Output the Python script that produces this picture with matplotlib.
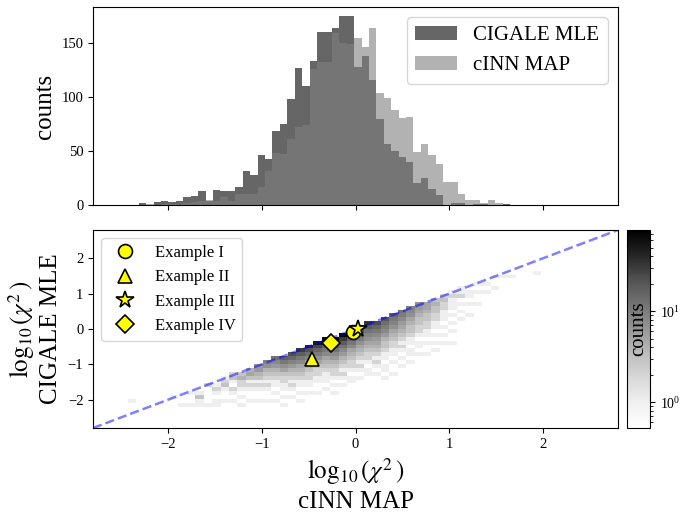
import matplotlib
matplotlib.use("Agg")
import matplotlib.pyplot as plt
import numpy as np
from matplotlib.colors import LogNorm

plt.rcParams['font.family'] = 'serif'
plt.rcParams['font.serif'] = ['Liberation Serif', 'DejaVu Serif']
plt.rcParams['mathtext.fontset'] = 'stix'

# 1D histograms of log10(chi^2), shared bins
hist_start = -2.312
hist_width = 0.0792
cigale_counts = [2, 0, 3, 4, 3, 4, 7, 8, 13, 4, 14, 13, 13, 17, 32, 28, 46, 43, 69, 75,
                 98, 127, 110, 134, 161, 161, 164, 175, 175, 128, 138, 116, 80, 57, 50, 45, 40, 20, 25, 15,
                 9, 0, 2, 2, 0, 1, 1, 0, 0, 1]
cinn_counts = [0, 1, 0, 1, 1, 1, 2, 3, 4, 5, 4, 7, 4, 10, 10, 10, 17, 32, 48, 47,
               61, 72, 74, 126, 133, 133, 160, 150, 149, 155, 147, 164, 104, 99, 88, 81, 82, 49, 57, 46,
               38, 21, 21, 10, 5, 5, 2, 5, 2, 0]

# 2D histogram (x: cINN MAP, y: CIGALE MLE); per x column: y of top cell, counts going down
h2_x0 = -2.52
h2_dx = 0.09
h2_y0 = -2.53
h2_dy = 0.11
h2_ny = 42
h2_top = [None, -2.02, None, None, None, None, -1.87, -2.1, -1.8, -1.8,
          -1.62, -1.55, -1.4, -1.3, -1.21, -1.12, -1.03, -0.95, -0.86, -0.77,
          -0.68, -0.59, -0.5, -0.41, -0.32, -0.23, -0.14, -0.05, 0.04, 0.13,
          0.22, 0.31, 0.4, 0.49, 0.58, 0.67, 0.76, 0.85, 0.94, 1.03,
          1.12, 1.21, 1.3, 1.39, 1.48, 1.57, 1.5, None, None, 1.6]
h2_cols = [
    [], [1], [], [], [], [], [1], [1], [1, 0, 0, 1], [1, 3, 1, 1],
    [2, 0, 0, 0, 0, 1],
    [1, 2, 1, 0, 1, 1],
    [1, 2, 3, 1, 0, 0, 1],
    [2, 3, 1, 0, 2, 1, 0, 1],
    [3, 4, 2, 2, 1, 0, 1, 0, 1],
    [4, 5, 3, 1, 2, 1, 0, 0, 1],
    [6, 6, 4, 3, 1, 2, 1, 0, 0, 1],
    [9, 7, 4, 3, 2, 1, 2, 1, 0, 0, 1],
    [12, 8, 6, 4, 3, 2, 1, 1, 0, 1, 0, 1],
    [16, 11, 7, 5, 3, 2, 2, 1, 1, 0, 1, 0, 1],
    [22, 14, 9, 6, 4, 3, 2, 1, 2, 1, 0, 1],
    [30, 18, 11, 8, 5, 4, 3, 2, 1, 1, 0, 1, 0, 1],
    [40, 22, 13, 9, 6, 4, 3, 2, 2, 1, 1, 0, 1],
    [50, 26, 15, 10, 7, 5, 3, 2, 2, 1, 1, 0, 0, 1],
    [60, 30, 17, 11, 8, 5, 4, 3, 2, 1, 1, 1, 0, 1],
    [70, 34, 18, 12, 8, 6, 4, 3, 2, 2, 1, 0, 1, 0, 1],
    [75, 32, 18, 12, 8, 6, 4, 3, 2, 1, 2, 1, 0, 1],
    [66, 28, 16, 11, 8, 5, 4, 3, 2, 2, 1, 0, 1, 1],
    [45, 22, 14, 10, 7, 5, 4, 3, 2, 1, 2, 1, 0, 1],
    [32, 18, 12, 9, 7, 5, 4, 3, 2, 2, 1, 0, 1, 1],
    [24, 15, 11, 8, 6, 5, 4, 3, 2, 1, 2, 1, 0, 1],
    [20, 13, 10, 8, 6, 4, 3, 3, 2, 1, 1, 0, 1, 1, 0, 1],
    [15, 11, 9, 7, 5, 4, 3, 2, 2, 1, 1, 0, 1, 0, 0, 1],
    [12, 10, 8, 6, 5, 4, 3, 2, 1, 2, 1, 0, 1, 0, 1],
    [9, 8, 7, 5, 4, 3, 3, 2, 1, 1, 0, 1, 1, 0, 1],
    [7, 6, 5, 4, 3, 3, 2, 2, 1, 0, 1, 1, 0, 1],
    [5, 5, 4, 3, 3, 2, 2, 1, 1, 0, 1, 0, 0, 1],
    [3, 4, 3, 3, 2, 2, 1, 1, 0, 1, 0, 1, 0, 1],
    [2, 3, 2, 2, 1, 1, 1, 0, 1, 0, 1, 0, 1],
    [1, 2, 1, 1, 1, 0, 1, 0, 1, 0, 1, 0, 0, 1],
    [1, 1, 2, 0, 1, 0, 1, 0, 1],
    [0, 1, 1, 0, 1, 0, 0, 1],
    [1, 0, 1, 0, 0, 1],
    [0, 1, 0, 1],
    [1, 0, 0, 1],
    [0, 1],
    [1], [], [], [1],
]

examples = ['Example I', 'Example II', 'Example III', 'Example IV']
ex_x = [-0.027, -0.463, 0.026, -0.257]
ex_y = [-0.076, -0.85, -0.01, -0.40]
ex_markers = ['o', '^', '*', 'D']
ex_sizes = [10, 10, 13, 9]

lims = (-2.8, 2.8)

fig = plt.figure(figsize=(6.8, 5.13), dpi=100)
ax_top = fig.add_axes([93/680, 1-205/513, 525/680, 198/513])
ax = fig.add_axes([93/680, 1-428/513, 525/680, 198/513], sharex=ax_top)
cax = fig.add_axes([627/680, 1-428/513, 23/680, 198/513])

# top panel
edges = hist_start + hist_width*np.arange(len(cigale_counts)+1)
centers = 0.5*(edges[1:] + edges[:-1])
ax_top.hist(centers, bins=edges, weights=cigale_counts, color='k', alpha=0.6, label='CIGALE MLE')
ax_top.hist(centers, bins=edges, weights=cinn_counts, color='gray', alpha=0.6, label='cINN MAP')
ax_top.set_ylabel('counts', fontsize=18)
ax_top.tick_params(labelbottom=False, labelsize=10.5)
ax_top.legend(loc='upper right', fontsize=15)

# bottom panel
nx = len(h2_cols)
x_edges = h2_x0 + h2_dx*np.arange(nx+1)
y_edges = h2_y0 + h2_dy*np.arange(h2_ny+1)
H = np.zeros((h2_ny, nx))
for j in range(nx):
    if h2_top[j] is None:
        continue
    i0 = int((h2_top[j] - h2_y0)//h2_dy)
    for k, c in enumerate(h2_cols[j]):
        H[i0-k, j] = c
H = np.ma.masked_equal(H, 0)
mesh = ax.pcolormesh(x_edges, y_edges, H, cmap='Greys', norm=LogNorm(vmin=0.52, vmax=78))
ax.plot(lims, lims, '--', color='b', alpha=0.5, lw=1.8)
for lab, x, y, m, s in zip(examples, ex_x, ex_y, ex_markers, ex_sizes):
    ax.plot(x, y, m, ms=s, mfc='yellow', mec='k', mew=1.2, ls='none', label=lab)
ax.set_xlim(lims)
ax.set_ylim(lims)
ax.set_xlabel('$\\log_{10}(\\chi^2\\,)$\ncINN MAP', fontsize=18)
ax.set_ylabel('$\\log_{10}(\\chi^2\\,)$\nCIGALE MLE', fontsize=18)
ax.tick_params(labelsize=10.5)
ax.legend(loc='upper left', fontsize=12)

cbar = fig.colorbar(mesh, cax=cax)
cbar.ax.tick_params(labelsize=10)
cbar.ax.text(0.5, 0.5, 'counts', rotation=90, ha='center', va='center',
             fontsize=15, transform=cbar.ax.transAxes)

fig.savefig('out.png', dpi=100)
